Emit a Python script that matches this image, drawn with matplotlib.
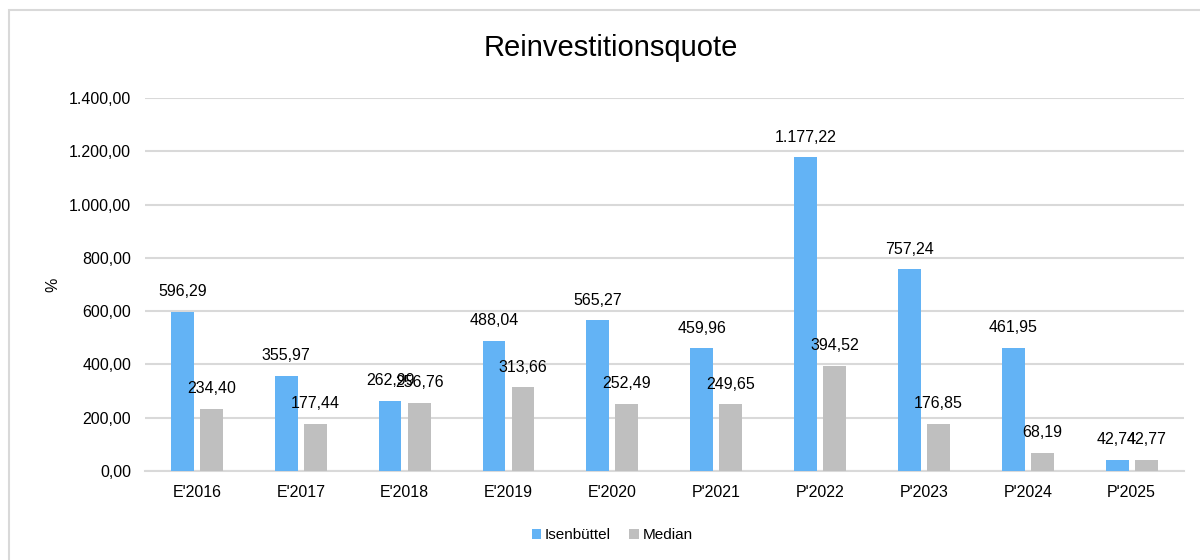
import numpy as np
import matplotlib
matplotlib.use("Agg")
from matplotlib import pyplot as plt
from matplotlib.patches import Rectangle

plt.rcParams["font.family"] = ["Liberation Sans", "DejaVu Sans"]

# data
categories = ["E'2016", "E'2017", "E'2018", "E'2019", "E'2020",
              "P'2021", "P'2022", "P'2023", "P'2024", "P'2025"]
isenbuettel = [596.29, 355.97, 262.99, 488.04, 565.27,
               459.96, 1177.22, 757.24, 461.95, 42.74]
median = [234.40, 177.44, 256.76, 313.66, 252.49,
          249.65, 394.52, 176.85, 68.19, 42.77]
y_ticks = [0, 200, 400, 600, 800, 1000, 1200, 1400]

BLUE = "#63b3f5"
GREY = "#bfbfbf"
GRID = "#d9d9d9"


def de_fmt(v):
    # German number format: 1.177,22
    s = f"{v:,.2f}"
    return s.replace(",", "X").replace(".", ",").replace("X", ".")


fig = plt.figure(figsize=(12, 5.6), dpi=100)
ax = fig.add_axes([0.1208, 0.159, 0.8655, 0.666])

# light frame around the chart area
fig.patches.append(Rectangle((0.0075, -0.1), 1.2, 1.082, transform=fig.transFigure,
                             fill=False, edgecolor=GRID, linewidth=1.5))

x = np.arange(len(categories))
w = 0.22
off = 0.14
b1 = ax.bar(x - off, isenbuettel, w, color=BLUE, label="Isenbüttel", zorder=3)
b2 = ax.bar(x + off, median, w, color=GREY, label="Median", zorder=3)

for bars, vals in ((b1, isenbuettel), (b2, median)):
    for rect, v in zip(bars, vals):
        ax.annotate(de_fmt(v), (rect.get_x() + rect.get_width() / 2, v),
                    xytext=(0, 14.5), textcoords="offset points",
                    ha="center", va="center", fontsize=11.5, color="#000000", zorder=4)

ax.set_xlim(-0.5, len(categories) - 0.5)
ax.set_ylim(0, 1400)
ax.set_yticks(y_ticks)
ax.set_yticklabels([de_fmt(t) for t in y_ticks])
ax.set_xticks(x)
ax.set_xticklabels(categories)
ax.tick_params(axis="both", length=0, labelsize=11.5, colors="#000000")
ax.tick_params(axis="x", pad=10)
ax.tick_params(axis="y", pad=10)

ax.grid(axis="y", color=GRID, linewidth=1.5, zorder=0)
for side in ("top", "right", "left"):
    ax.spines[side].set_visible(False)
ax.spines["bottom"].set_color(GRID)
ax.spines["bottom"].set_linewidth(1.5)

ax.set_ylabel("%", fontsize=11.5, labelpad=6)
fig.text(0.509, 0.914, "Reinvestitionsquote", ha="center", va="center", fontsize=21)

ax.legend(loc="center", bbox_to_anchor=(0.45, -0.172), ncol=2, frameon=False,
          fontsize=11, handlelength=0.6, handleheight=0.6, handletextpad=0.25,
          columnspacing=1.2)

fig.savefig("out.png", dpi=100, facecolor="white")
